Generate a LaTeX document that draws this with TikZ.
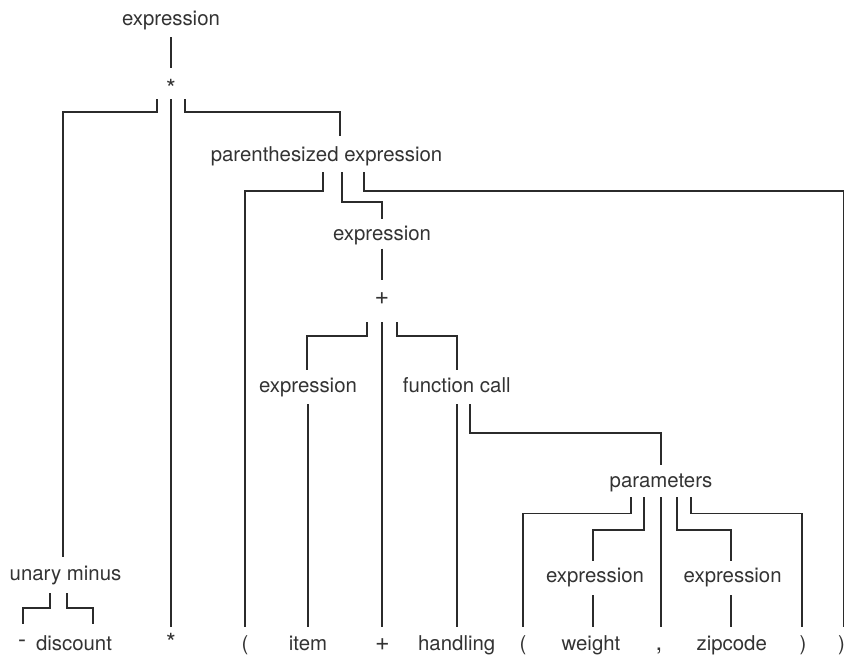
\documentclass[tikz,border=0pt]{standalone}
\usepackage{fontspec}
\setmainfont{TeX Gyre Heros}
\usetikzlibrary{calc}
\definecolor{ink}{HTML}{2B2B2B}
\definecolor{txt}{HTML}{333333}
\tikzset{
  lbl/.style={anchor=base, inner sep=0pt, text height=15pt, text depth=5pt, text=txt, font=\fontsize{20.4}{24}\selectfont},
  symstar/.style={lbl, text depth=0pt, font=\fontsize{25}{28}\selectfont},
  symplus/.style={lbl, text depth=0pt, font=\fontsize{25}{28}\selectfont},
  sympunct/.style={lbl, font=\fontsize{24}{28}\selectfont},
  edge/.style={draw=ink, line width=1.8pt, line cap=butt, line join=miter}
}
\begin{document}
\begin{tikzpicture}[x=1pt, y=-1pt]
\useasboundingbox (0,0) rectangle (846,656);
% inner nodes
\node[lbl] (e0) at (171,25) {expression};
\node[symstar] (m0) at (171,97) {*};
\node[lbl] (um) at (65.5,580) {unary minus};
\node[lbl] (pe) at (326.5,161) {parenthesized expression};
\node[lbl] (e2) at (382,240.5) {expression};
\node[symplus] (p1) at (382,304) {+};
\node[lbl] (e3) at (308,392) {expression};
\node[lbl] (fc) at (456.7,392) {function call};
\node[lbl] (pm) at (661,487) {parameters};
\node[lbl] (e4) at (595,582.5) {expression};
\node[lbl] (e5) at (732.7,582.5) {expression};
% leaves
\node[sympunct] (dash) at (22,647) {-};
\node[lbl] (disc) at (74,650) {discount};
\node[symstar] (bstar) at (171,651) {*};
\node[lbl] (lp1) at (245,650) {(};
\node[lbl] (item) at (308,650) {item};
\node[symplus] (bplus) at (382.5,650) {+};
\node[lbl] (hd) at (456.7,650) {handling};
\node[lbl] (lp2) at (523,650) {(};
\node[lbl] (wt) at (591,650) {weight};
\node[sympunct] (comma) at (659,650) {,};
\node[lbl] (zip) at (731.7,650) {zipcode};
\node[lbl] (rp1) at (803,650) {)};
\node[lbl] (rp2) at (841.5,650) {)};
% connectors
\draw[edge] ($(e0.base)+(0,12)$) -- ($(m0.base)+(0,-29)$);
\draw[edge] ($(m0.base)+(-14,2)$) -- ++(0,13) -| ($(um.base)+(-2.5,-23)$);
\draw[edge] ($(m0.base)+(0,2)$) -- ($(bstar.base)+(0,-24)$);
\draw[edge] ($(m0.base)+(14,2)$) -- ++(0,13) -| ($(pe.base)+(13.5,-25)$);
\draw[edge] ($(um.base)+(-15.5,13)$) -- ++(0,15) -| ($(dash.base)+(0.7,-23)$);
\draw[edge] ($(um.base)+(1.2,13)$) -- ++(0,15) -| ($(disc.base)+(19.3,-26)$);
\draw[edge] ($(pe.base)+(-3.8,11)$) -- ++(0,19) -| ($(lp1.base)+(0,-23)$);
\draw[edge] ($(pe.base)+(15.2,11)$) -- ++(0,30.3) -| ($(e2.base)+(0,-22)$);
\draw[edge] ($(pe.base)+(37.5,11)$) -- ++(0,19) -| ($(rp2.base)+(2,-23)$);
\draw[edge] ($(e2.base)+(0,8)$) -- ($(p1.base)+(0,-24)$);
\draw[edge] ($(p1.base)+(-15.3,18)$) -- ++(0,14) -| ($(e3.base)+(-0.7,-22)$);
\draw[edge] ($(p1.base)+(0,18)$) -- ($(p1.base |- bplus.base)+(0,-23)$);
\draw[edge] ($(p1.base)+(15,18)$) -- ++(0,14) -| ($(fc.base)+(0,-22)$);
\draw[edge] ($(e3.base)+(0,12)$) -- ($(e3.base |- item.base)+(0,-23)$);
\draw[edge] ($(fc.base)+(0,12)$) -- ($(hd.base)+(0,-23)$);
\draw[edge] ($(fc.base)+(13.3,12)$) -- ++(0,29) -| ($(pm.base)+(0,-22)$);
\draw[edge] ($(pm.base)+(-30,10)$) -- ++(0,16.5) -| ($(lp2.base)+(0,-23)$);
\draw[edge] ($(pm.base)+(-17,10)$) -- ++(0,33) -| ($(e4.base)+(-2.3,-21.5)$);
\draw[edge] ($(pm.base)+(0,10)$) -- ($(pm.base |- comma.base)+(0,-23)$);
\draw[edge] ($(pm.base)+(16.3,10)$) -- ++(0,33) -| ($(e5.base)+(-1.7,-21.5)$);
\draw[edge] ($(pm.base)+(29.7,10)$) -- ++(0,16.5) -| ($(rp1.base)+(-0.7,-23)$);
\draw[edge] ($(e4.base)+(-2.3,12.5)$) -- ($(e4.base |- wt.base)+(-2.3,-23)$);
\draw[edge] ($(e5.base)+(-1.7,12.5)$) -- ($(e5.base |- zip.base)+(-1.7,-23)$);
\end{tikzpicture}
\end{document}
